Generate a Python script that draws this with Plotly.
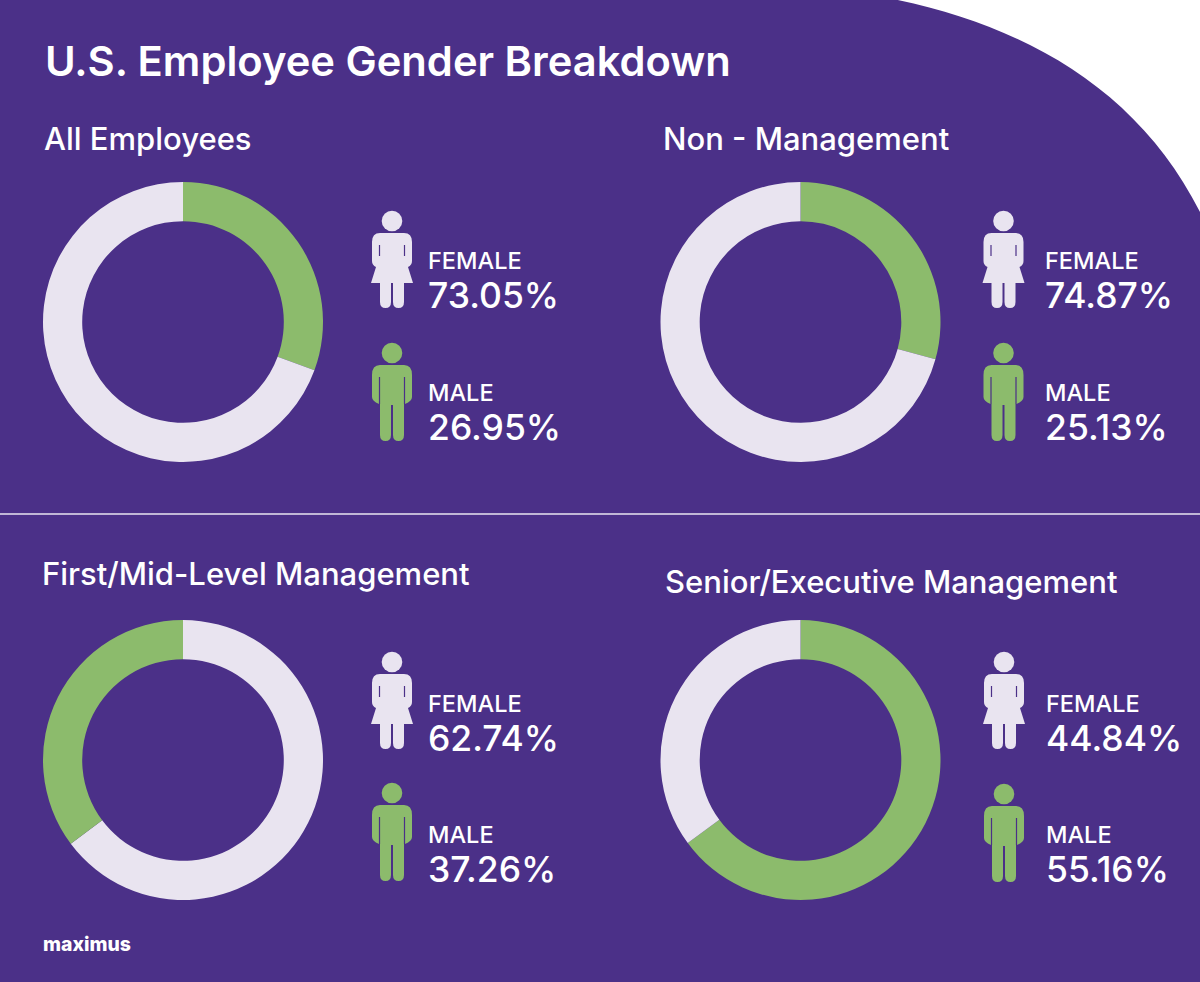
import plotly.graph_objects as go

W, H = 1200, 982
PURPLE = "#4B3088"
GREEN = "#8CBB6C"
PALE = "#E9E4F0"
FONT = "Inter"

title = "U.S. Employee Gender Breakdown"
panels = ["All Employees", "Non - Management", "First/Mid-Level Management", "Senior/Executive Management"]
# printed percentages
female = [73.05, 74.87, 62.74, 44.84]
male = [26.95, 25.13, 37.26, 55.16]
# shares as the rings are actually drawn in the picture (they differ from the printed numbers)
ring_female = [69.4, 70.7, 64.8, 35.1]
ring_male = [30.6, 29.3, 35.2, 64.9]
# the third ring starts with the female share at twelve o'clock
order = [("Male", "Female"), ("Male", "Female"), ("Female", "Male"), ("Male", "Female")]

centers = [(183, 322), (800.5, 322), (183, 760), (800.5, 760)]
radius = 140
title_pos = [(42, 139), (661, 139), (40, 573), (663, 581)]
icon_x = [392, 1003.5, 392, 1004]
female_head = [221, 221, 662, 662]
male_head = [353, 353, 793, 794]
text_x = [426, 1043, 426, 1044]
female_text = [281, 281, 724, 724]
male_text = [414, 414, 855, 855]


def px(x):
    return x / W


def py(y):
    return 1 - y / H


def text(x, y, s, size, weight=400, color="white"):
    return dict(x=px(x), y=py(y), xref="paper", yref="paper", text=s, showarrow=False,
                xanchor="left", yanchor="middle", align="left",
                font=dict(family=FONT, size=size, color=color, weight=weight))


def stat(x, y, label, value):
    s = (f"<span style='font-size:23.5px'>{label}</span><br>"
         f"<span style='font-size:35.5px'>{value:.2f}%</span>")
    return text(x, y, s, 30, 500)


def path(cx, cy, segs):
    out = []
    for seg in segs:
        cmd, nums = seg[0], seg[1:]
        pts = [f"{px(cx + nums[i])},{py(cy + nums[i + 1])}" for i in range(0, len(nums), 2)]
        out.append(cmd + " " + " ".join(pts))
    return " ".join(out) + " Z"


FEMALE_BODY = [
    ("M", -12, 12), ("L", 12, 12), ("Q", 20, 12, 20, 21), ("L", 20, 40), ("Q", 20, 44, 16, 46),
    ("L", 21, 62), ("L", 12, 62), ("L", 12, 81), ("Q", 12, 87, 6.5, 87), ("Q", 1, 87, 1, 81),
    ("L", 1, 62), ("L", -1, 62), ("L", -1, 81), ("Q", -1, 87, -6.5, 87), ("Q", -12, 87, -12, 81),
    ("L", -12, 62), ("L", -21, 62), ("L", -16, 46), ("Q", -20, 44, -20, 40), ("L", -20, 21),
    ("Q", -20, 12, -12, 12),
]
MALE_BODY = [
    ("M", -12, 12), ("L", 12, 12), ("Q", 20, 12, 20, 22), ("L", 20, 44), ("Q", 20, 48, 13, 51),
    ("L", 12, 51), ("L", 12, 82), ("Q", 12, 88, 6.5, 88), ("Q", 1, 88, 1, 82), ("L", 1, 52),
    ("L", -1, 52), ("L", -1, 82), ("Q", -1, 88, -6.5, 88), ("Q", -12, 88, -12, 82), ("L", -12, 51),
    ("L", -13, 51), ("Q", -20, 48, -20, 44), ("L", -20, 22), ("Q", -20, 12, -12, 12),
]


def icon(cx, cy, body, color, slit_top, slit_bottom):
    shapes = [
        dict(type="circle", xref="paper", yref="paper", x0=px(cx - 10.3), x1=px(cx + 10.3),
             y0=py(cy + 10.3), y1=py(cy - 10.3), fillcolor=color, line_width=0),
        dict(type="path", xref="paper", yref="paper", path=path(cx, cy, body), fillcolor=color, line_width=0),
    ]
    for sx in (-12.5, 12.5):
        shapes.append(dict(type="line", xref="paper", yref="paper", x0=px(cx + sx), x1=px(cx + sx),
                           y0=py(cy + slit_top), y1=py(cy + slit_bottom),
                           line=dict(color=PURPLE, width=1.2)))
    return shapes


fig = go.Figure()
annotations = [text(43, 61, title, 41.7, 600)]
shapes = [
    dict(type="path", xref="paper", yref="paper", fillcolor="white", line_width=0,
         path=path(0, 0, [("M", 888, -2), ("C", 1025, 25, 1140, 90, 1202, 216), ("L", 1202, -2)])),
    dict(type="line", xref="paper", yref="paper", x0=0, x1=1, y0=py(514), y1=py(514),
         line=dict(color=PALE, width=1.5)),
]

for i, name in enumerate(panels):
    cx, cy = centers[i]
    shares = {"Female": ring_female[i], "Male": ring_male[i]}
    colors = {"Female": PALE, "Male": GREEN}
    fig.add_trace(go.Pie(
        labels=list(order[i]),
        values=[shares[k] for k in order[i]],
        marker=dict(colors=[colors[k] for k in order[i]], line=dict(width=0)),
        hole=0.72, sort=False, direction="clockwise", rotation=0,
        textinfo="none", showlegend=False, name=name,
        domain=dict(x=[px(cx - radius), px(cx + radius)], y=[py(cy + radius), py(cy - radius)]),
    ))
    annotations.append(text(*title_pos[i], name, 31, 500))
    annotations.append(stat(text_x[i], female_text[i], "FEMALE", female[i]))
    annotations.append(stat(text_x[i], male_text[i], "MALE", male[i]))
    shapes += icon(icon_x[i], female_head[i], FEMALE_BODY, PALE, 24, 35)
    shapes += icon(icon_x[i], male_head[i], MALE_BODY, GREEN, 24, 51)

annotations.append(text(41, 944, "maximus", 19.4, 800))

fig.update_layout(
    width=W, height=H, autosize=False,
    margin=dict(l=0, r=0, t=0, b=0),
    paper_bgcolor=PURPLE, plot_bgcolor=PURPLE,
    showlegend=False, annotations=annotations, shapes=shapes,
)
fig.write_html("out.html", config=dict(displayModeBar=False),
               post_script="document.body.style.margin='0';document.body.style.overflow='hidden';")
